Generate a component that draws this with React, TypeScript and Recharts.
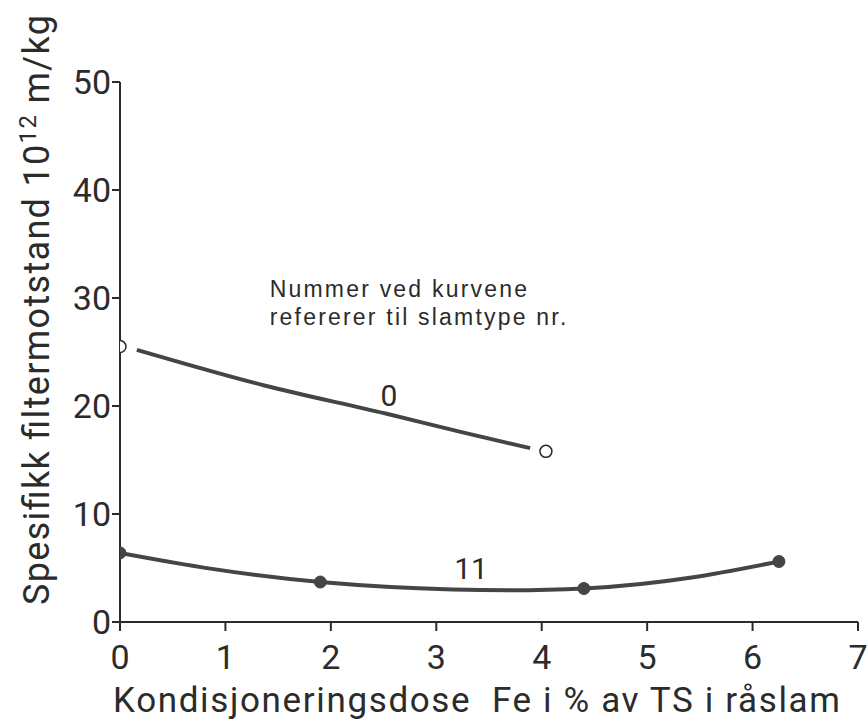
import React from 'react';
import { LineChart, Line, XAxis, YAxis, ReferenceDot } from 'recharts';

// Axis ticks
const xTicks = [0, 1, 2, 3, 4, 5, 6, 7];
const yTicks = [0, 10, 20, 30, 40, 50];

const curve0X = [0.16, 1.37, 2.52, 3.23, 3.89];
const curve0Y = [25.2, 21.9, 19.3, 17.6, 16.1];
const points0X = [0, 4.04];
const points0Y = [25.5, 15.8];

// Curve "11": filled measurement points
const curve11X = [0, 1.9, 4.4, 6.25];
const curve11Y = [6.4, 3.7, 3.1, 5.6];

// Text
const xTitle = 'Kondisjoneringsdose  Fe i % av TS i råslam';
const yTitleMain = 'Spesifikk filtermotstand 10';
const yTitleSup = '12';
const yTitleUnit = ' m/kg';
const noteLines = ['Nummer ved kurvene', 'refererer til slamtype nr.'];
const noteAnchor = { x: 1.42, y: 30.1 };
const curveLabels = [
  { text: '0', x: 2.55, y: 21.0 },
  { text: '11', x: 3.33, y: 5.0 },
];

const curve0Data = curve0X.map((x, i) => ({ x, y: curve0Y[i] }));
const points0Data = points0X.map((x, i) => ({ x, y: points0Y[i] }));
const curve11Data = curve11X.map((x, i) => ({ x, y: curve11Y[i] }));

const INK = '#2b2b2b';
const LINE = '#454545';
const FONT = 'Roboto';

const XTitle = (props: any) => {
  const vb = props.viewBox;
  return (
    <text
      x={vb.x - 7}
      y={vb.y + 90}
      textLength={727}
      lengthAdjust="spacing"
      fontSize={35}
      fontFamily={FONT}
      fill={INK}
      style={{ whiteSpace: 'pre' }}
    >
      {xTitle}
    </text>
  );
};

const YTitle = (props: any) => {
  const vb = props.viewBox;
  const x = vb.x + 49;
  const y = vb.y + vb.height / 2 - 42;
  return (
    <text
      x={x}
      y={y}
      transform={`rotate(-90, ${x}, ${y})`}
      textAnchor="middle"
      fontSize={36}
      fontFamily={FONT}
      fill={INK}
      textLength={590}
      lengthAdjust="spacing"
      style={{ whiteSpace: 'pre' }}
    >
      {yTitleMain}
      <tspan fontSize={24} dy={-13}>{yTitleSup}</tspan>
      <tspan dy={13}>{yTitleUnit}</tspan>
    </text>
  );
};

const NoteLabel = (props: any) => {
  const vb = props.viewBox;
  const x = vb.x + vb.width / 2;
  const y = vb.y + vb.height / 2;
  return (
    <text x={x} y={y} fontSize={23} fontFamily="Liberation Sans" fill={INK} letterSpacing={2.2}>
      {noteLines.map((t, i) => (
        <tspan key={i} x={x} dy={i === 0 ? 0 : 28}>{t}</tspan>
      ))}
    </text>
  );
};

const makeCurveLabel = (text: string) => (props: any) => {
  const vb = props.viewBox;
  return (
    <text
      x={vb.x + vb.width / 2}
      y={vb.y + vb.height / 2}
      textAnchor="middle"
      dominantBaseline="central"
      fontSize={30}
      fontFamily={FONT}
      fill={INK}
    >
      {text}
    </text>
  );
};

export default function App() {
  return (
    <div style={{ position: 'fixed', left: 0, top: 0, width: 867, height: 725, background: '#fff' }}>
      <LineChart
        width={867}
        height={725}
        margin={{ top: 82, right: 9, bottom: 43, left: 0 }}
      >
        <XAxis
          type="number"
          dataKey="x"
          domain={[0, 7]}
          ticks={xTicks}
          interval={0}
          allowDataOverflow
          height={60}
          tickSize={9}
          tickMargin={14}
          axisLine={{ stroke: INK, strokeWidth: 2 }}
          tickLine={{ stroke: INK, strokeWidth: 2 }}
          tick={{ fontSize: 34, fontFamily: FONT, fill: INK }}
          label={XTitle}
        />
        <YAxis
          type="number"
          dataKey="y"
          domain={[0, 50]}
          ticks={yTicks}
          interval={0}
          allowDataOverflow
          width={120}
          tickSize={8}
          tickMargin={1}
          axisLine={{ stroke: INK, strokeWidth: 2 }}
          tickLine={{ stroke: INK, strokeWidth: 2 }}
          tick={{ fontSize: 34, fontFamily: FONT, fill: INK }}
          label={YTitle}
        />
        <Line
          data={curve0Data}
          dataKey="y"
          type="monotone"
          stroke={LINE}
          strokeWidth={4}
          dot={false}
          activeDot={false}
          isAnimationActive={false}
        />
        <Line
          data={points0Data}
          dataKey="y"
          stroke="none"
          strokeWidth={0}
          dot={{ r: 6, fill: '#fff', stroke: INK, strokeWidth: 1.5 }}
          activeDot={false}
          isAnimationActive={false}
        />
        <Line
          data={curve11Data}
          dataKey="y"
          type="natural"
          stroke={LINE}
          strokeWidth={4}
          dot={{ r: 6, fill: LINE, stroke: LINE, strokeWidth: 1 }}
          activeDot={false}
          isAnimationActive={false}
        />
        <ReferenceDot
          x={noteAnchor.x}
          y={noteAnchor.y}
          r={1}
          fill="none"
          stroke="none"
          label={NoteLabel}
        />
        {curveLabels.map((c) => (
          <ReferenceDot
            key={c.text}
            x={c.x}
            y={c.y}
            r={1}
            fill="none"
            stroke="none"
            label={makeCurveLabel(c.text)}
          />
        ))}
      </LineChart>
    </div>
  );
}
